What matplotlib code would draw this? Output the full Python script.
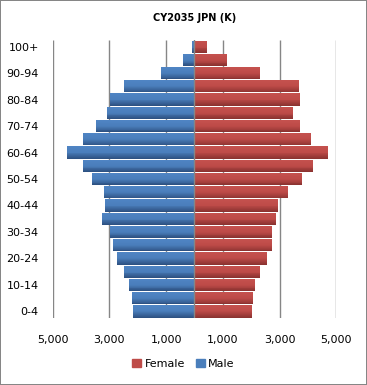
import numpy as np
import matplotlib.pyplot as plt
from matplotlib.ticker import FuncFormatter
from matplotlib.colors import LinearSegmentedColormap

ages = ['0-4', '5-9', '10-14', '15-19', '20-24', '25-29', '30-34', '35-39',
        '40-44', '45-49', '50-54', '55-59', '60-64', '65-69', '70-74',
        '75-79', '80-84', '85-89', '90-94', '95-99', '100+']
male = [2160, 2200, 2310, 2480, 2730, 2870, 2980, 3260, 3150, 3190, 3610,
        3930, 4490, 3930, 3470, 3080, 2980, 2480, 1180, 400, 80]
female = [2040, 2070, 2140, 2320, 2560, 2740, 2740, 2880, 2950, 3310, 3800,
          4190, 4720, 4120, 3730, 3480, 3730, 3690, 2300, 1150, 450]
xticks = [-5000, -3000, -1000, 1000, 3000, 5000]


def gradient_barh(ax, y, vals, cmap, height=0.92, n=14):
    # stack thin strips to fake the Excel gradient (dark at the bottom)
    h = height / n
    for k in range(n):
        off = -height / 2 + h * (k + 0.5)
        ax.barh(y + off, vals, height=h * 1.05, color=cmap(k / (n - 1)),
                lw=0, zorder=3)


fig = plt.figure(figsize=(3.67, 3.85), dpi=100)
fig.patch.set_edgecolor('#868686')
fig.patch.set_linewidth(1.2)
ax = fig.add_axes([0.1436, 0.174, 0.7727, 0.722])

y = np.arange(len(ages))
# gridlines drawn by hand so they stay under the bars
ax.vlines(xticks, -0.5, len(ages) - 0.5, color='#868686', lw=1, zorder=1)

red = LinearSegmentedColormap.from_list('r', ['#8C3331', '#BE4B48', '#C4514E'])
blue = LinearSegmentedColormap.from_list('b', ['#2E5283', '#4A7EBB', '#4F84C3'])
gradient_barh(ax, y, np.array(female), red)
gradient_barh(ax, y, -np.array(male), blue)
handles = [plt.Rectangle((0, 0), 1, 1, color='#BE4B48'),
           plt.Rectangle((0, 0), 1, 1, color='#4A7EBB')]
ax.axvline(0, color='#868686', lw=1, zorder=4)

ax.set_xlim(-5000, 5000)
ax.set_ylim(-0.5, len(ages) - 0.5)
ax.set_xticks(xticks)
ax.xaxis.set_major_formatter(FuncFormatter(lambda v, p: '{:,}'.format(int(abs(v)))))
ax.set_yticks(y[::2])
ax.set_yticklabels(ages[::2])
ax.tick_params(axis='both', length=0, labelsize=8)
ax.tick_params(axis='y', pad=10)
ax.tick_params(axis='x', pad=12)
for s in ax.spines.values():
    s.set_visible(False)

ax.set_title('CY2035 JPN (K)', fontsize=7, fontweight='bold', pad=14)
fig.legend(handles, ['Female', 'Male'], loc='center',
           bbox_to_anchor=(0.5, 0.055), ncol=2, frameon=False,
           fontsize=8, handlelength=0.8, handleheight=0.8, handletextpad=0.3,
           columnspacing=1.0)

plt.savefig('out.png', dpi=100, edgecolor=fig.get_edgecolor())
